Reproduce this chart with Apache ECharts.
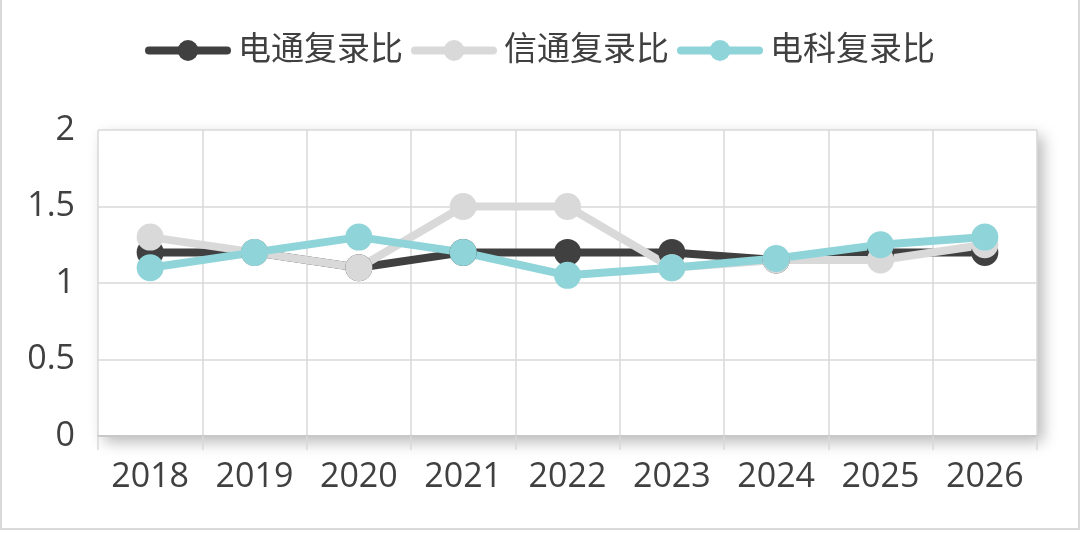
<!DOCTYPE html>
<html lang="zh">
<head>
    <meta charset="UTF-8">
    <title>复录比</title>
    <script src="https://cdn.jsdelivr.net/npm/echarts@6/dist/echarts.min.js"></script>
    <style>
        body {
            margin: 0;
            padding: 0;
            background-color: #fff;
        }
        .frame {
            position: absolute;
            left: 0;
            top: -3px;
            width: 1076px;
            height: 529px;
            border: 2px solid #d9d9d9;
            pointer-events: none;
        }
        #chart {
            position: absolute;
            left: 0;
            top: 0;
            width: 1080px;
            height: 554px;
        }
    </style>
</head>
<body>
    <div class="frame"></div>
    <div id="chart"></div>

    <script>
        const years = ['2018', '2019', '2020', '2021', '2022', '2023', '2024', '2025', '2026'];
        const dianTong = [1.2, 1.2, 1.1, 1.2, 1.2, 1.2, 1.15, 1.2, 1.2];
        const xinTong = [1.3, 1.2, 1.1, 1.5, 1.5, 1.1, 1.15, 1.15, 1.25];
        const dianKe = [1.1, 1.2, 1.3, 1.2, 1.05, 1.1, 1.16, 1.25, 1.3];
        const yTicks = [0, 0.5, 1, 1.5, 2];

        const textColor = '#404040';
        const gridColor = '#d9d9d9';
        const font = '"Open Sans", "Noto Sans CJK SC", sans-serif';

        function lineSeries(name, data, color) {
            return {
                name: name,
                type: 'line',
                data: data,
                symbol: 'circle',
                symbolSize: 27,
                itemStyle: { color: color },
                lineStyle: { color: color, width: 8, cap: 'round', join: 'round' },
                emphasis: { disabled: true }
            };
        }

        const chart = echarts.init(document.getElementById('chart'));
        chart.setOption({
            animation: false,
            textStyle: { fontFamily: font },
            legend: {
                top: 29,
                left: 'center',
                itemWidth: 78,
                itemHeight: 26,
                itemGap: 8,
                lineStyle: { width: 8, cap: 'round' },
                textStyle: { fontSize: 33, color: textColor, fontFamily: font, padding: [0, 0, 0, 6] },
                data: ['电通复录比', '信通复录比', '电科复录比']
            },
            grid: {
                left: 98,
                right: 43,
                top: 130,
                bottom: 118,
                show: true,
                backgroundColor: '#fff',
                borderWidth: 0,
                shadowColor: 'rgba(0,0,0,0.28)',
                shadowBlur: 14,
                shadowOffsetX: 6,
                shadowOffsetY: 6
            },
            xAxis: {
                type: 'category',
                data: years,
                boundaryGap: true,
                axisLine: { lineStyle: { color: '#c8c8c8', width: 2 } },
                axisTick: { show: true, length: 14, lineStyle: { color: gridColor, width: 1.5 } },
                axisLabel: { fontSize: 34, color: textColor, margin: 24, fontFamily: font },
                splitLine: { show: true, lineStyle: { color: gridColor, width: 1.5 } }
            },
            yAxis: {
                type: 'value',
                min: yTicks[0],
                max: yTicks[yTicks.length - 1],
                interval: 0.5,
                axisLine: { show: false },
                axisTick: { show: false },
                axisLabel: { fontSize: 34, color: textColor, margin: 23, fontFamily: font },
                splitLine: { show: true, lineStyle: { color: gridColor, width: 1.5 } }
            },
            series: [
                lineSeries('电通复录比', dianTong, '#404040'),
                lineSeries('信通复录比', xinTong, '#d9d9d9'),
                lineSeries('电科复录比', dianKe, '#8fd4d9')
            ]
        });
    </script>
</body>
</html>
